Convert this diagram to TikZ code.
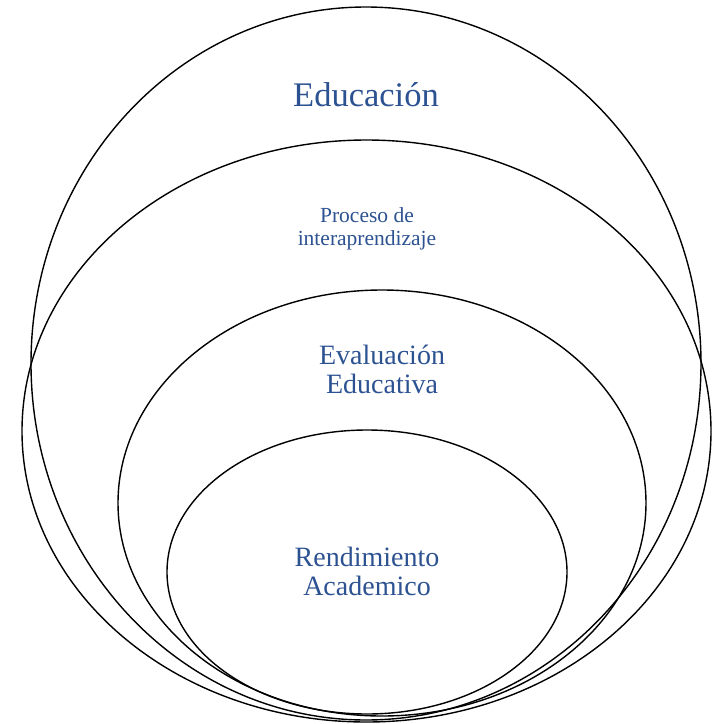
\documentclass[tikz,border=0pt]{standalone}
\usepackage{fontspec}
\setmainfont{Liberation Serif}
\usepackage{tikz}
\usetikzlibrary{calc, shapes, positioning}
\definecolor{labelblue}{RGB}{44,82,145}

\begin{document}
\begin{tikzpicture}[x=1pt, y=-1pt,
    ring/.style={draw, ellipse, line width=1.4pt, inner sep=0pt},
    lbl/.style={text=labelblue, align=center, inner sep=0pt}]
    \useasboundingbox (0,0) rectangle (719,724);
      \node[ring, minimum width=670pt, minimum height=713pt] (educ) at (366,363.5) {};
      \node[ring, minimum width=689pt, minimum height=582pt] (proc) at (366.5,431) {};
      \node[ring, minimum width=528pt, minimum height=426pt] (eval) at (382,503) {};
      \node[ring, minimum width=400pt, minimum height=284pt] (rend) at (367,572) {};
      \node[lbl, font=\fontsize{34.5}{36}\selectfont] (educlbl) at (366,95) {Educación};
      \node[lbl, font=\fontsize{21.5}{23}\selectfont] (proclbl) at (367,229) {Proceso de\\interaprendizaje};
      \node[lbl, font=\fontsize{28}{29}\selectfont] (evallbl) at (382,369) {Evaluación\\Educativa};
      \node[lbl, font=\fontsize{28}{29}\selectfont] (rendlbl) at (367,571) {Rendimiento\\Academico};
    \end{tikzpicture}
\end{document}
